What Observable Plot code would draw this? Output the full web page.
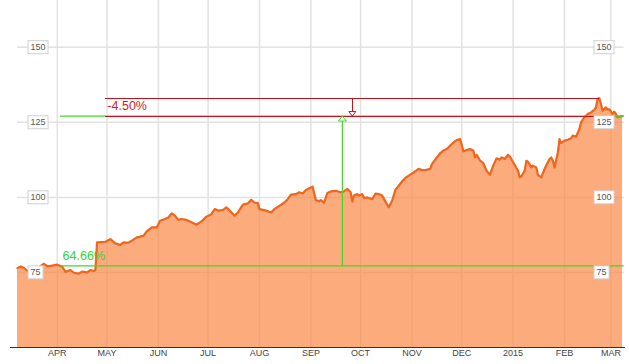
<!DOCTYPE html>
<html><head><meta charset="utf-8">
<script src="https://cdn.jsdelivr.net/npm/d3@7"></script>
<script src="https://cdn.jsdelivr.net/npm/@observablehq/plot@0.6"></script>
<style>body{margin:0;background:#fff;} #chart svg{display:block;}</style>
</head><body><div id="chart"></div>
<script>
const dates = [
"2014-03-08","2014-03-10","2014-03-12","2014-03-14","2014-03-19","2014-03-24","2014-03-26","2014-03-29",
"2014-04-01","2014-04-04","2014-04-06","2014-04-09","2014-04-11","2014-04-14","2014-04-16","2014-04-19",
"2014-04-21","2014-04-23","2014-04-24","2014-04-25","2014-04-30","2014-05-03","2014-05-06","2014-05-09",
"2014-05-11","2014-05-14","2014-05-16","2014-05-19","2014-05-23","2014-05-25","2014-05-28","2014-05-31",
"2014-06-02","2014-06-05","2014-06-07","2014-06-09","2014-06-11","2014-06-13","2014-06-15","2014-06-18",
"2014-06-21","2014-06-24","2014-06-27","2014-06-30","2014-07-03","2014-07-05","2014-07-07","2014-07-10",
"2014-07-12","2014-07-14","2014-07-17","2014-07-19","2014-07-22","2014-07-25","2014-07-27","2014-07-29",
"2014-07-31","2014-08-01","2014-08-05","2014-08-08","2014-08-10","2014-08-13","2014-08-16","2014-08-18",
"2014-08-20","2014-08-23","2014-08-25","2014-08-27","2014-08-29","2014-09-01","2014-09-02","2014-09-04",
"2014-09-06","2014-09-07","2014-09-09","2014-09-11","2014-09-13","2014-09-16","2014-09-19","2014-09-21",
"2014-09-23","2014-09-25","2014-09-26","2014-09-27","2014-09-29","2014-09-30","2014-10-02","2014-10-03",
"2014-10-05","2014-10-08","2014-10-10","2014-10-12","2014-10-14","2014-10-16","2014-10-18","2014-10-20",
"2014-10-22","2014-10-24","2014-10-26","2014-10-28","2014-10-31","2014-11-02","2014-11-05","2014-11-07",
"2014-11-09","2014-11-12","2014-11-13","2014-11-16","2014-11-18","2014-11-20","2014-11-22","2014-11-24",
"2014-11-26","2014-11-28","2014-11-30","2014-12-01","2014-12-02","2014-12-04","2014-12-06","2014-12-08",
"2014-12-09","2014-12-10","2014-12-12","2014-12-14","2014-12-16","2014-12-18","2014-12-20","2014-12-22",
"2014-12-24","2014-12-25","2014-12-27","2014-12-29","2014-12-30","2015-01-01","2015-01-04","2015-01-05",
"2015-01-06","2015-01-08","2015-01-09","2015-01-10","2015-01-12","2015-01-13","2015-01-15","2015-01-16",
"2015-01-18","2015-01-20","2015-01-21","2015-01-23","2015-01-24","2015-01-25","2015-01-26","2015-01-28",
"2015-01-29","2015-01-30","2015-02-01","2015-02-03","2015-02-05","2015-02-06","2015-02-08","2015-02-10",
"2015-02-11","2015-02-13","2015-02-15","2015-02-17","2015-02-19","2015-02-20","2015-02-21","2015-02-22",
"2015-02-23","2015-02-24","2015-02-26","2015-02-27","2015-02-28","2015-03-02","2015-03-03","2015-03-04",
"2015-03-05","2015-03-07","2015-03-08"];
const values = [
76.5,77.0,76.5,75.5,76.0,77.9,77.0,77.3,
77.6,76.9,75.2,75.8,74.9,74.6,75.3,75.0,
75.8,75.5,75.8,85.0,85.2,86.1,84.7,84.2,
85.0,84.9,85.6,86.7,87.2,88.7,90.0,90.0,
92.2,92.8,93.3,94.7,93.9,92.5,92.8,92.5,
91.7,90.9,92.0,93.6,94.4,96.1,95.6,95.8,
96.7,95.6,93.9,95.0,97.6,98.0,99.2,98.3,
98.1,96.1,95.6,95.0,96.1,97.2,98.3,99.4,
100.9,101.1,101.7,101.3,102.5,103.3,103.6,99.1,
98.7,99.1,98.3,101.5,102.0,102.2,101.7,102.0,
102.8,101.7,98.6,100.6,101.1,100.6,101.1,99.8,
100.0,99.4,101.3,101.1,100.6,98.6,96.7,98.9,
102.5,103.9,105.3,106.5,107.6,108.3,109.5,109.1,
109.1,109.5,111.1,113.3,114.7,115.6,116.1,117.2,
118.3,119.1,119.4,117.6,115.3,115.8,116.1,115.6,
113.3,114.2,112.3,111.4,108.9,107.5,110.6,113.0,
112.6,113.3,112.8,114.2,113.7,111.7,108.9,106.7,
107.0,108.9,112.2,111.9,110.0,110.6,110.0,107.5,
106.7,109.5,110.6,112.8,113.3,112.2,110.0,115.0,
119.4,118.1,118.9,119.2,119.7,120.6,120.2,122.8,
125.0,126.7,127.8,128.3,129.2,130.0,132.8,133.1,
131.1,128.9,130.0,129.2,129.4,127.8,128.6,127.8,
126.7,127.0,127.1];

const monthTicks = ["2014-04-01","2014-05-01","2014-06-01","2014-07-01","2014-08-01","2014-09-01",
  "2014-10-01","2014-11-01","2014-12-01","2015-01-01","2015-02-01","2015-03-01"];
const monthLabels = ["APR","MAY","JUN","JUL","AUG","SEP","OCT","NOV","DEC","2015","FEB","MAR"];
const yTicks = [75, 100, 125, 150];

const lowValue = 77.2, peakValue = 133.1, lastValue = 127.1;
const gainStart = "2014-04-03", gainEnd = "2015-03-09";
const dropStart = "2014-04-30", dropEnd = "2015-02-22";
const gainLabel = "64.66%", dropLabel = "-4.50%";

const xDomain = ["2014-03-08", "2015-03-08"];
const yDomain = [50, 165.6];

const parse = d3.utcParse("%Y-%m-%d");
const data = dates.map((d, i) => ({date: parse(d), value: values[i]}));

const GREEN = "#44d62c", RED = "#c4121a";
const gainMid = new Date((+parse(gainStart) + +parse(gainEnd)) / 2);
const dropMid = new Date((+parse(dropStart) + +parse(dropEnd)) / 2);

const triUp = {draw(ctx) { ctx.moveTo(0, 0); ctx.lineTo(4, 5); ctx.lineTo(-4, 5); ctx.closePath(); }};
const triDown = {draw(ctx) { ctx.moveTo(0, 0); ctx.lineTo(3.5, -4.5); ctx.lineTo(-3.5, -4.5); ctx.closePath(); }};

const font = "'Liberation Sans', Arial, sans-serif";
const crisp = {shapeRendering: "crispEdges"};

const chart = Plot.plot({
  width: 629, height: 364,
  marginLeft: 10, marginRight: 4, marginTop: 0, marginBottom: 17,
  style: {fontFamily: font, background: "white"},
  x: {type: "utc", domain: xDomain.map(parse), range: [17, 622], axis: null},
  y: {domain: yDomain, axis: null},
  marks: [
    Plot.ruleX(monthTicks.map(parse), {stroke: "#e2e2e2", strokeWidth: 1.5}),
    Plot.ruleY(yTicks, {x1: parse(xDomain[0]), x2: parse(gainEnd), stroke: "#e2e2e2", strokeWidth: 1.5}),
    Plot.areaY(data, {x: "date", y1: yDomain[0], y2: "value", fill: "#fb8744", fillOpacity: 0.7}),
    Plot.line(data, {x: "date", y: "value", stroke: "#f0661c", strokeWidth: 2.2}),
    Plot.ruleY([yDomain[0]], {stroke: "#333", strokeWidth: 1, ...crisp}),
    // gain annotation
    Plot.ruleY([lowValue, lastValue], {x1: parse(gainStart), x2: parse(gainEnd), stroke: GREEN, strokeWidth: 1.2}),
    Plot.ruleX([gainMid], {y1: lowValue, y2: lastValue, stroke: GREEN, strokeWidth: 1.2}),
    // drop annotation
    Plot.ruleY([peakValue, lastValue], {x1: parse(dropStart), x2: parse(dropEnd), stroke: RED, strokeWidth: 1, ...crisp}),
    Plot.ruleX([dropMid], {y1: peakValue, y2: lastValue, stroke: RED, strokeWidth: 1, ...crisp}),
    Plot.dot([lastValue], {x: gainMid, y: d => d, symbol: triUp, fill: "white", stroke: GREEN, strokeWidth: 1}),
    Plot.dot([lastValue], {x: dropMid, y: d => d, symbol: triDown, fill: "white", stroke: RED, strokeWidth: 1}),
    Plot.text([gainLabel], {x: parse(gainStart), y: lowValue, text: d => d, dx: 2, dy: -5.5,
      textAnchor: "start", lineAnchor: "bottom", fontSize: 12.5, fill: "#33d633"}),
    Plot.text([dropLabel], {x: parse(dropStart), y: lastValue, text: d => d, dx: 2, dy: -6,
      textAnchor: "start", lineAnchor: "bottom", fontSize: 12.5, fill: "#d01c1c"}),
    // month labels
    Plot.text(monthTicks, {x: d => parse(d), text: (d, i) => monthLabels[i], frameAnchor: "bottom",
      dy: 8, fontSize: 9, fill: "#444"}),
    // y labels left and right
    Plot.text(yTicks, {y: d => d, text: d => String(d), frameAnchor: "left", dx: 20,
      textAnchor: "start", fontSize: 9, fill: "#555"}),
    Plot.text(yTicks, {y: d => d, text: d => String(d), frameAnchor: "right", dx: -29,
      textAnchor: "start", fontSize: 9, fill: "#555"})
  ]
});

document.getElementById("chart").appendChild(chart);

// white boxes behind y tick labels
const labelSet = new Set(yTicks.map(String));
d3.select(chart).selectAll("text").each(function() {
  if (!labelSet.has(this.textContent)) return;
  const b = this.getBBox();
  const t = this.getAttribute("transform");
  const r = document.createElementNS("http://www.w3.org/2000/svg", "rect");
  r.setAttribute("x", b.x - 2.5);
  r.setAttribute("y", b.y - 1.5);
  r.setAttribute("width", b.width + 5);
  r.setAttribute("height", b.height + 3);
  r.setAttribute("fill", "white");
  r.setAttribute("stroke", "#d0d0d0");
  r.setAttribute("stroke-width", "1");
  if (t) r.setAttribute("transform", t);
  this.parentNode.insertBefore(r, this);
});
</script>
</body></html>
